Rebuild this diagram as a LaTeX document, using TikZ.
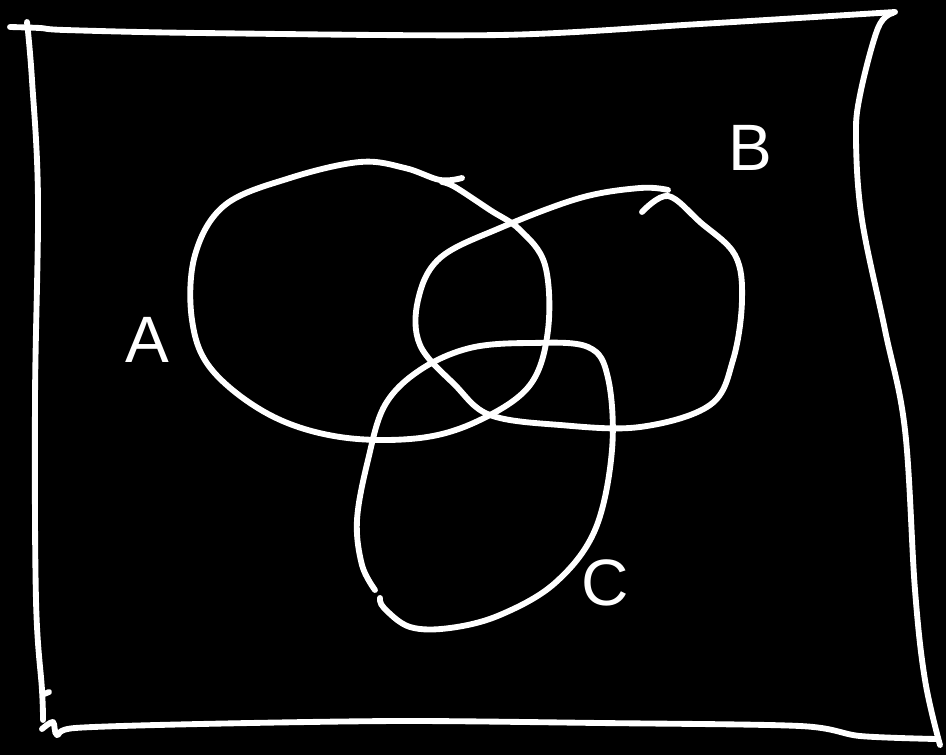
\documentclass[tikz,border=0pt]{standalone}
\usepackage{fontspec}
\setmainfont{Liberation Sans}
\begin{document}
\begin{tikzpicture}[x=0.03cm, y=-0.03cm,
    chalk/.style={white, line width=5pt, line cap=round, line join=round},
    letter/.style={white, font=\fontsize{56}{60}\selectfont}]
    % Фон
    \fill[black] (0,0) rectangle (946,755);
    \useasboundingbox (0,0) rectangle (946,755);

    % Рамка (универсальное множество)
    \draw[chalk] plot[smooth, tension=0.5] coordinates {(10,27) (40,28) (65,30) (200,33) (500,35) (700,24) (895,12)};
    \draw[chalk] plot[smooth, tension=0.6] coordinates {(27,22) (32,80) (38,200) (35,400) (36,600) (42,690) (43,720)};
    \draw[chalk] plot[smooth, tension=0.6] coordinates {(893,13) (878,28) (860,95) (856,140) (862,220) (885,330) (905,430) (915,590) (925,680) (940,745)};
    \draw[chalk] plot[smooth, tension=0.5] coordinates {(42,729) (53,722) (57,735) (75,728) (200,724) (400,721) (600,723) (800,726) (860,736) (936,739)};
    \draw[chalk] (44,694) -- (49,692);

    % Множество A
    \draw[chalk] plot[smooth, tension=0.6] coordinates {(462,178) (440,180) (405,168) (360,162) (290,178) (225,205) (195,255) (192,320) (212,370) (270,415) (340,437) (420,438) (480,420) (530,385) (548,330) (545,265) (520,230) (490,210) (455,187) (442,182)};

    % Множество B
    \draw[chalk] plot[smooth, tension=0.6] coordinates {(642,212) (668,196) (700,222) (735,255) (742,300) (733,360) (710,405) (640,427) (560,425) (490,415) (455,385) (420,345) (418,300) (440,258) (500,228) (580,198) (640,188) (668,190)};

    % Множество C
    \draw[chalk] plot[smooth, tension=0.6] coordinates {(380,598) (384,608) (410,627) (450,628) (500,615) (555,583) (595,530) (612,450) (608,378) (588,347) (530,343) (470,348) (420,370) (385,405) (368,460) (357,520) (362,565) (375,590)};

    % Подписи
    \node[letter] (lA) at (147,340) {A};
    \node[letter] (lB) at (750,148) {B};
    \node[letter] (lC) at (605,583) {C};
\end{tikzpicture}
\end{document}
